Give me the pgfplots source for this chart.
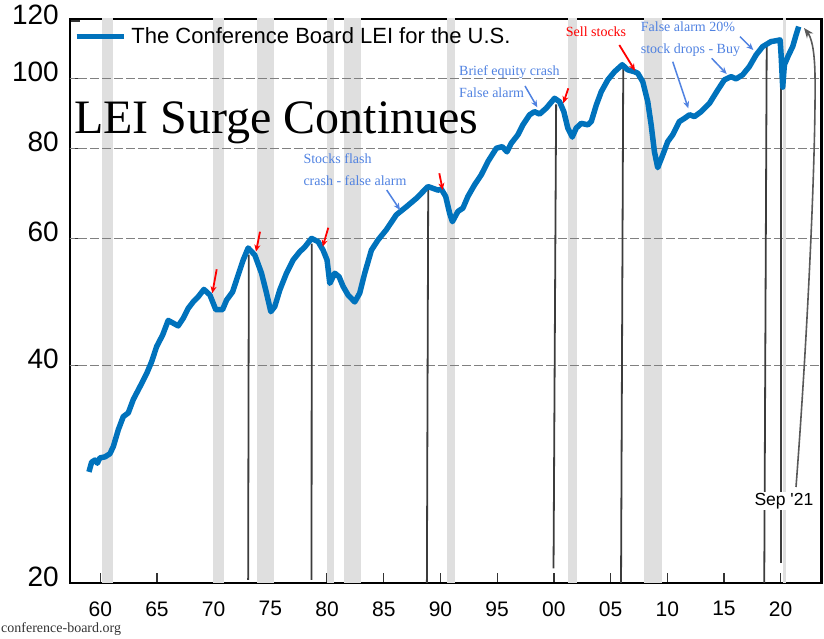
\documentclass[border=0pt]{standalone}
\usepackage{fontspec}
\setmainfont{Liberation Sans}
\newfontfamily\tnr{Liberation Serif}
\usepackage{pgfplots}
\pgfplotsset{compat=1.18}
\usetikzlibrary{arrows.meta}
\definecolor{leiblue}{RGB}{0,114,188}
\definecolor{annblue}{RGB}{80,130,225}
\definecolor{recgray}{RGB}{223,223,223}
\definecolor{gridgray}{RGB}{128,128,128}
\definecolor{vline}{RGB}{60,60,60}
\begin{document}
\begin{tikzpicture}
\begin{axis}[
  scale only axis, width=751.7pt, height=564pt,
  xmin=1957.33, xmax=2023.62,
  ymode=log, ymin=20, ymax=120.8,
  axis line style={line width=2.7pt, black},
  xtick={1960,1965,...,2020},
  xticklabels={60,65,70,75,80,85,90,95,00,05,10,15,20},
  ytick={20,40,60,80,100,120},
  yticklabels={20,40,60,80,100,120},
  yminorticks=false, xminorticks=false,
  tick align=inside, tick pos=left,
  major tick length=10pt,
  tick style={line width=1.3pt, color=black!80},
  xticklabel style={font=\fontsize{21}{21}\selectfont, yshift=-15pt},
  yticklabel style={font=\fontsize{28}{28}\selectfont, xshift=-7.7pt, yshift=6.5pt},
  legend style={at={(0.005,0.9685)}, anchor=west, draw=none, fill=none,
    font=\fontsize{22}{22}\selectfont, inner sep=0pt, nodes={inner sep=0pt}},
  legend cell align=left,
  legend image code/.code={\draw[line width=5.5pt, leiblue] (0pt,0pt) -- (47pt,0pt); \path (52pt,0pt);},
]
% recession bands
\addplot[draw=none, fill=recgray, forget plot] coordinates {(1960.18,15) (1960.18,130) (1961.12,130) (1961.12,15)} -- cycle;
\addplot[draw=none, fill=recgray, forget plot] coordinates {(1969.90,15) (1969.90,130) (1970.94,130) (1970.94,15)} -- cycle;
\addplot[draw=none, fill=recgray, forget plot] coordinates {(1973.80,15) (1973.80,130) (1975.28,130) (1975.28,15)} -- cycle;
\addplot[draw=none, fill=recgray, forget plot] coordinates {(1980.00,15) (1980.00,130) (1980.60,130) (1980.60,15)} -- cycle;
\addplot[draw=none, fill=recgray, forget plot] coordinates {(1981.50,15) (1981.50,130) (1983.00,130) (1983.00,15)} -- cycle;
\addplot[draw=none, fill=recgray, forget plot] coordinates {(1990.57,15) (1990.57,130) (1991.30,130) (1991.30,15)} -- cycle;
\addplot[draw=none, fill=recgray, forget plot] coordinates {(2001.25,15) (2001.25,130) (2002.00,130) (2002.00,15)} -- cycle;
\addplot[draw=none, fill=recgray, forget plot] coordinates {(2007.95,15) (2007.95,130) (2009.55,130) (2009.55,15)} -- cycle;
\addplot[draw=none, fill=recgray, forget plot] coordinates {(2020.17,15) (2020.17,130) (2020.50,130) (2020.50,15)} -- cycle;
% grid lines
\addplot[gridgray, line width=1.2pt, dash pattern=on 9pt off 3pt, forget plot] coordinates {(1957,40) (2024,40)};
\addplot[gridgray, line width=1.2pt, dash pattern=on 9pt off 3pt, forget plot] coordinates {(1957,60) (2024,60)};
\addplot[gridgray, line width=1.2pt, dash pattern=on 9pt off 3pt, forget plot] coordinates {(1957,80) (2024,80)};
\addplot[gridgray, line width=1.2pt, dash pattern=on 9pt off 3pt, forget plot] coordinates {(1957,100) (2024,100)};
% vertical lines from peaks
\addplot[vline, line width=1.8pt, forget plot] coordinates {(1973.10,57) (1973.04,20.2)};
\addplot[vline, line width=1.8pt, forget plot] coordinates {(1978.65,59) (1978.63,20.2)};
\addplot[vline, line width=1.8pt, forget plot] coordinates {(1988.92,70) (1988.80,19.5)};
\addplot[vline, line width=1.8pt, forget plot] coordinates {(2000.20,92) (1999.97,20.96)};
\addplot[vline, line width=1.8pt, forget plot] coordinates {(2006.12,104) (2005.92,19.5)};
\addplot[vline, line width=1.8pt, forget plot] coordinates {(2018.77,111) (2018.55,19.5)};
\addplot[vline, line width=1.8pt, forget plot] coordinates {(2020.00,113) (2020.00,21.3)};
% LEI
\addplot[leiblue, line width=5.5pt, line join=round] coordinates {
(1959.00,28.5) (1959.24,29.4) (1959.53,29.6) (1959.74,29.3) (1959.97,29.8)
(1960.41,29.9) (1960.85,30.2) (1961.15,30.9) (1961.59,32.6) (1962.03,34.0)
(1962.47,34.4) (1962.91,35.9) (1963.50,37.4) (1964.09,39.0) (1964.53,40.5)
(1964.97,42.5) (1965.50,44.1) (1965.99,46.2) (1966.43,45.8) (1966.87,45.4)
(1967.31,46.5) (1967.75,48.0) (1968.19,49.0) (1968.63,49.8) (1969.14,51.0)
(1969.67,50.1) (1970.19,47.8) (1970.78,47.8) (1971.14,49.3) (1971.67,50.6)
(1972.16,53.4) (1972.60,56.0) (1973.04,58.2) (1973.63,56.9) (1974.22,53.7)
(1974.66,50.4) (1975.04,47.5) (1975.39,48.3) (1975.83,50.9) (1976.42,53.7)
(1977.00,56.0) (1977.59,57.5) (1978.04,58.4) (1978.63,60.0) (1979.21,59.4)
(1979.65,57.8) (1980.00,56.0) (1980.24,52.0) (1980.68,53.7) (1981.06,53.1)
(1981.41,51.5) (1981.85,50.1) (1982.44,49.0) (1982.88,50.4) (1983.32,53.7)
(1983.91,57.8) (1984.49,59.7) (1985.23,61.7) (1986.11,64.7) (1987.00,66.4)
(1987.88,68.2) (1988.90,70.8) (1989.78,70.0) (1990.08,70.2) (1990.46,68.6)
(1990.81,65.0) (1991.05,63.3) (1991.54,65.4) (1991.98,66.1) (1992.42,68.6)
(1993.01,71.2) (1993.60,73.5) (1994.19,76.7) (1994.93,80.0) (1995.45,80.4)
(1995.86,79.1) (1996.25,81.3) (1996.83,83.5) (1997.27,86.2) (1997.86,89.0)
(1998.30,89.9) (1998.74,89.2) (1999.33,90.9) (2000.06,93.8) (2000.50,92.8)
(2000.88,89.9) (2001.23,85.3) (2001.62,82.9) (2001.97,85.3) (2002.41,86.6)
(2003.00,86.2) (2003.30,87.1) (2003.74,91.8) (2004.18,95.8) (2004.76,99.5)
(2005.35,102.1) (2006.03,104.4) (2006.52,102.7) (2007.11,102.1) (2007.40,101.6)
(2007.84,98.9) (2008.28,92.8) (2008.58,86.2) (2008.87,79.1) (2009.16,75.2)
(2009.60,78.3) (2010.04,81.7) (2010.48,83.5) (2011.07,87.1) (2011.52,88.0)
(2011.96,89.0) (2012.40,88.5) (2012.99,89.9) (2013.72,92.3) (2014.45,96.3)
(2015.04,99.5) (2015.63,100.5) (2016.07,99.8) (2016.65,101.1) (2017.24,103.8)
(2017.83,107.7) (2018.41,110.6) (2019.15,112.4) (2019.59,112.7) (2019.95,113.0)
(2020.04,107.7) (2020.18,97.2) (2020.33,104.4) (2020.70,107.7) (2021.06,110.6)
(2021.36,114.8) (2021.59,117.9)
};
\addlegendentry{The Conference Board LEI for the U.S.}
\end{axis}
\begin{scope}[x=1pt, y=-1pt, shift={(-70pt,583pt)}]
% title
\node[anchor=base west, inner sep=0pt, font=\tnr\fontsize{48}{48}\selectfont] at (74,134) {LEI Surge Continues};
% blue annotations
\begin{scope}[every node/.style={anchor=base west, inner sep=0pt, font=\tnr\fontsize{14}{14}\selectfont, text=annblue}]
\node at (303.3,164) {Stocks flash};
\node at (303.3,185.3) {crash - false alarm};
\node at (459,76) {Brief equity crash};
\node at (459,97.3) {False alarm};
\node at (640.7,31.7) {False alarm 20\%};
\node at (640.7,53.3) {stock drops - Buy};
\node[text=red] at (565.7,36.7) {Sell stocks};
\end{scope}
\begin{scope}[annblue, line width=1.5pt, -{Stealth[length=7pt,width=6pt]}]
\draw (386.7,190) -- (400,210);
\draw (525,86) -- (537.3,107.3);
\draw (740,36.7) -- (753.3,50);
\draw (711.7,58.3) -- (726.7,74);
\draw (672.7,61.7) -- (688.3,108.3);
\end{scope}
\begin{scope}[red, line width=1.8pt, -{Stealth[length=7pt,width=6pt]}]
\draw (216.7,269.3) -- (212.3,293.3);
\draw (260,231.7) -- (256,251.7);
\draw (328.3,227.7) -- (322.7,246.7);
\draw (439.3,173.3) -- (442.7,190);
\draw (568.3,88.3) -- (563.3,103.3);
\draw (619.3,45) -- (635,70.7);
\end{scope}
% Sep '21 label and arrow
\draw[vline!85, line width=1.6pt, -{Stealth[length=10pt,width=8pt]}] (796,487) .. controls (808,330) and (816,150) .. (815,75) .. controls (814.5,48) and (811,37) .. (804,28);
\node[anchor=base west, inner sep=1pt, fill=white, font=\fontsize{17.5}{17.5}\selectfont] at (753.3,505.7) {Sep \textquotesingle21};
\node[anchor=base west, inner sep=0pt, font=\tnr\fontsize{14}{14}\selectfont, text=black!80] at (1,632.3) {conference-board.org};
\pgfresetboundingbox
\path[use as bounding box] (0,0) rectangle (824,639);
\end{scope}
\end{tikzpicture}
\end{document}
